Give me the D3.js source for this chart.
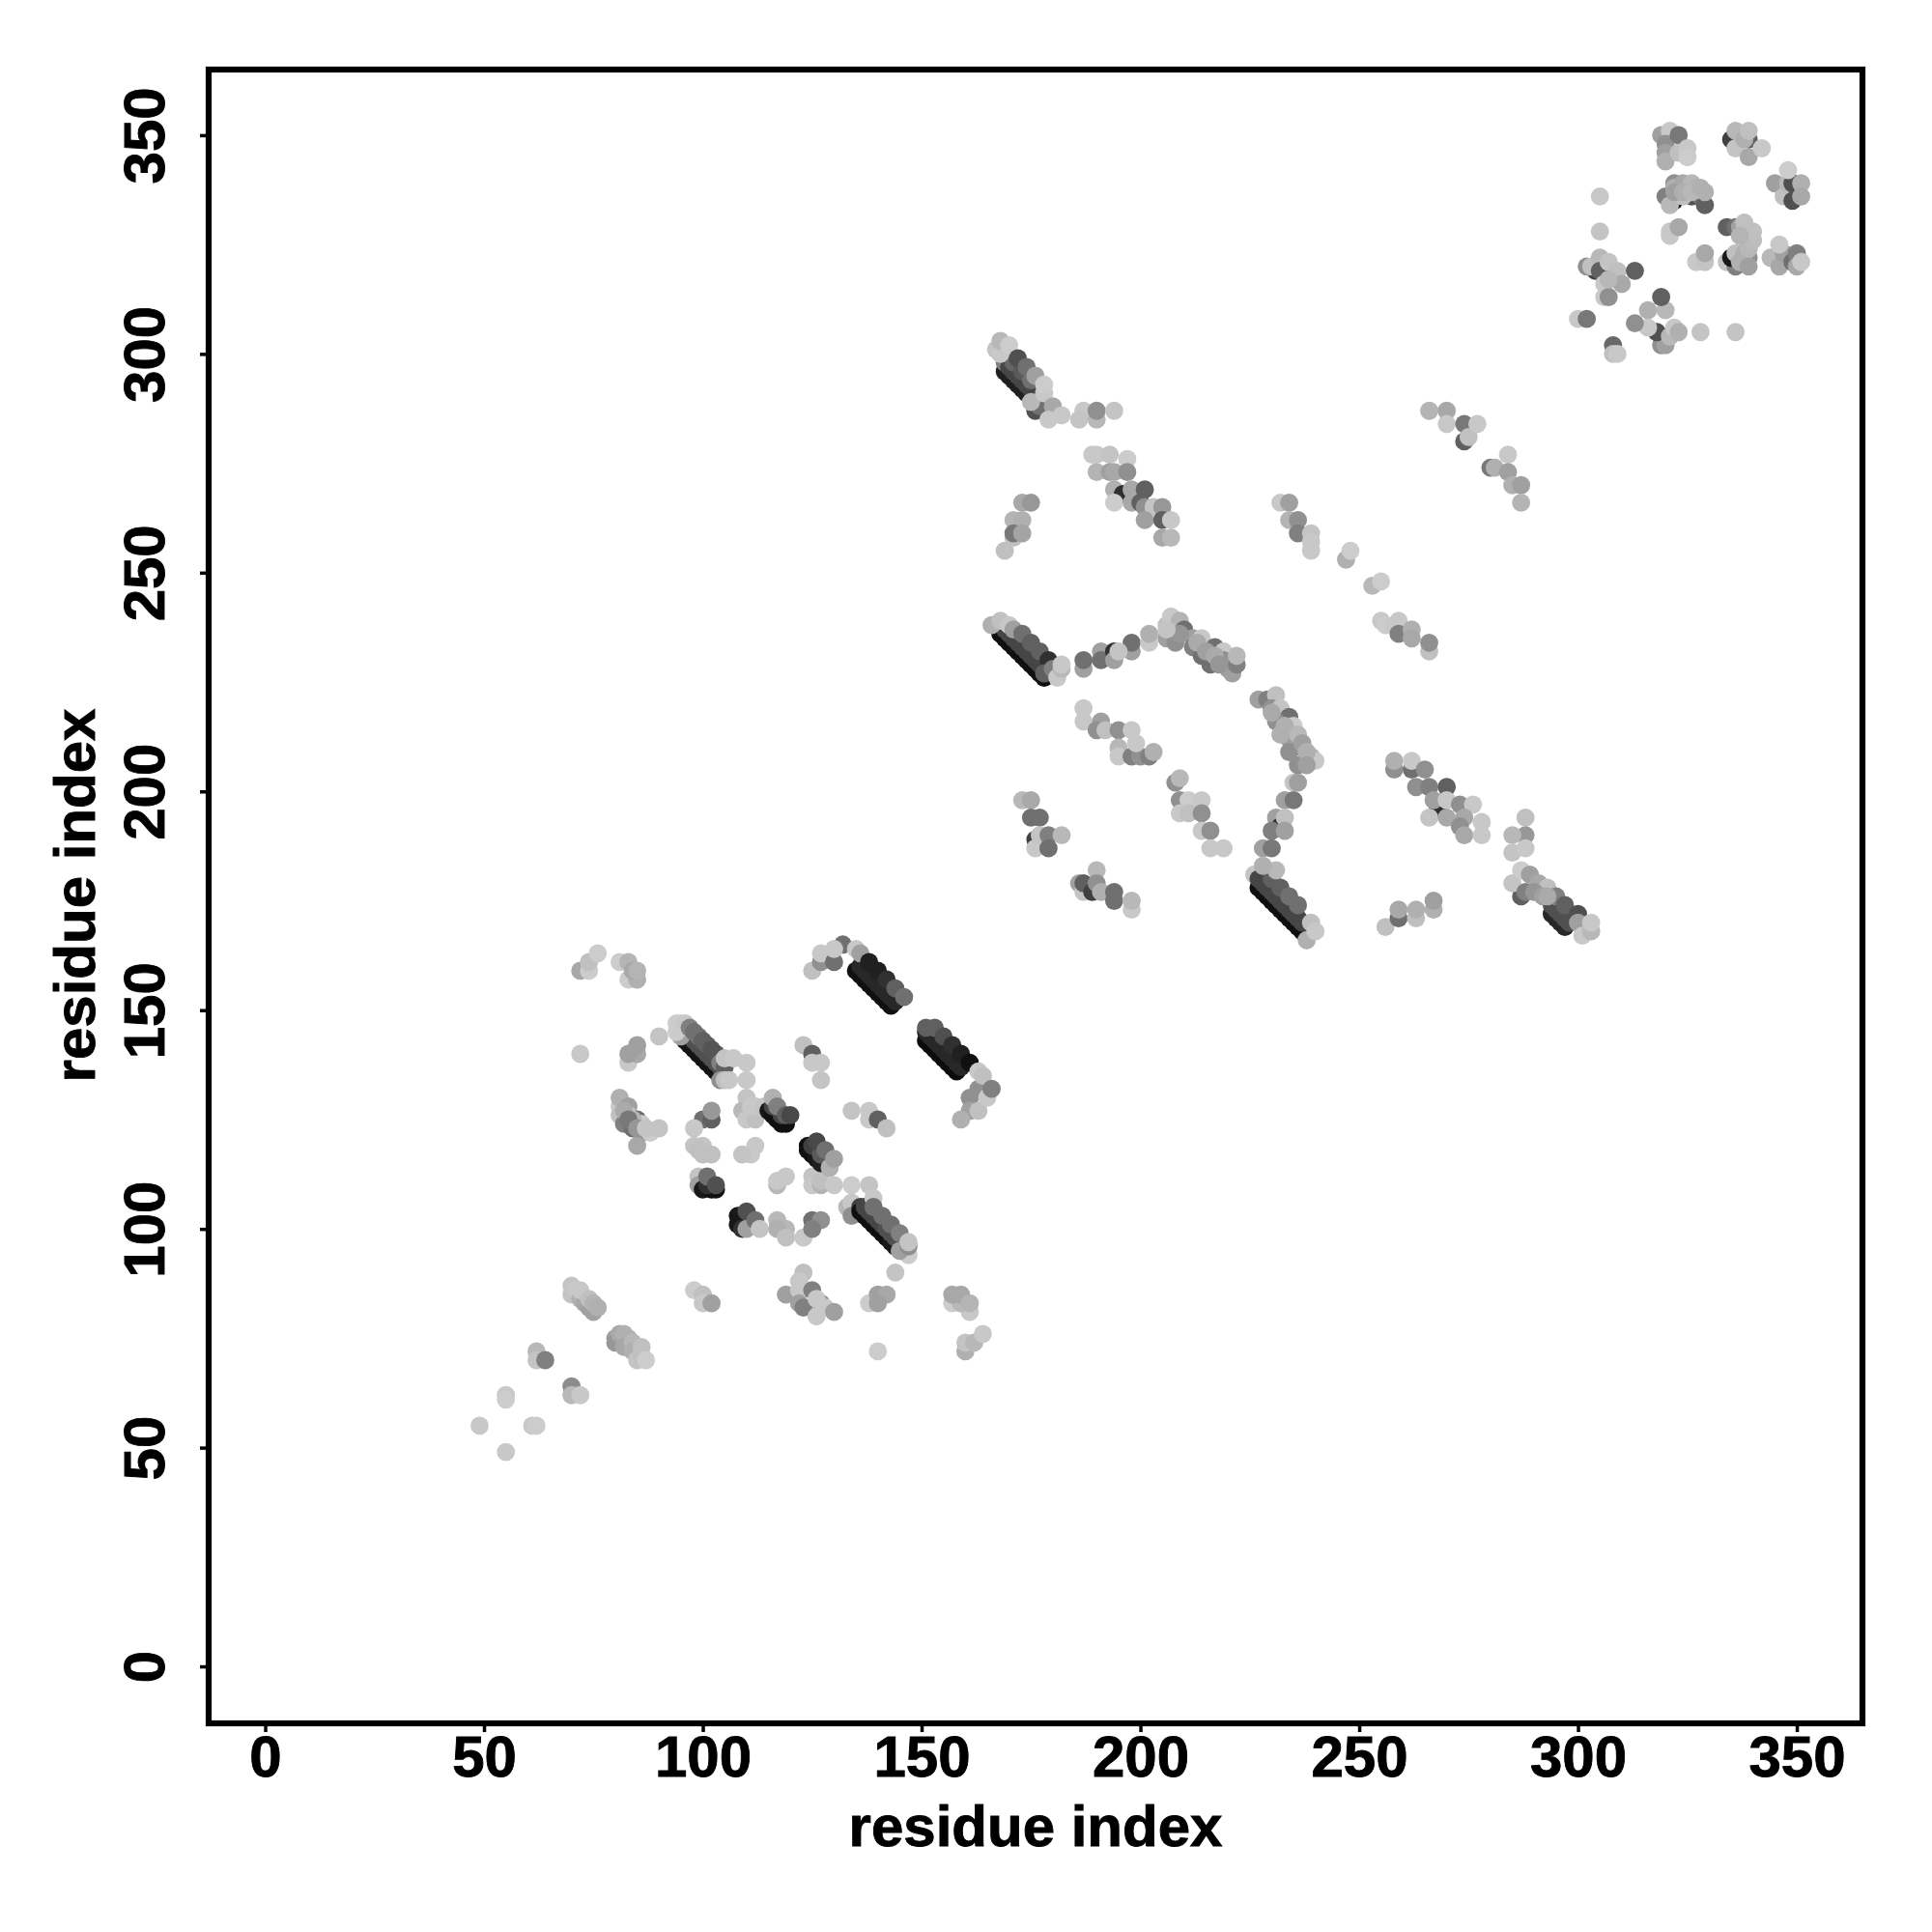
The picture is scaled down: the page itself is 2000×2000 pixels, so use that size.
<!DOCTYPE html>
<html><head><meta charset="utf-8">
<script src="https://d3js.org/d3.v7.min.js"></script>
<style>html,body{margin:0;padding:0;background:#fff}svg{display:block}</style>
</head><body><div id="chart"></div>
<script>
const tickLabels=[0,50,100,150,200,250,300,350];
const axisTitle="residue index";
const residueX=[
49,55,55,55,61,62,62,62,64,70,70,72,
70,70,71,72,73,74,75,72,74,75,76,
80,80,81,82,83,82,84,84,86,85,86,87,
72,74,74,76,81,83,85,83,84,85,72,83,85,83,85,90,
96,97,98,99,100,101,102,103,97,98,99,100,101,102,103,104,95,94,94,95,96,97,98,99,100,101,102,103,104,105,104,105,106,105,107,110,110,
100,102,102,98,98,100,99,100,102,99,99,100,102,103,101,101,103,
108,108,109,110,110,112,113,117,119,117,119,123,125,127,125,
110,109,110,112,112,111,114,115,116,117,118,119,116,118,116,117,119,120,
123,125,125,127,127,134,138,138,140,142,
112,111,109,117,117,119,125,125,127,127,130,134,138,
124,124,125,126,127,125,127,129,126,128,130,
133,134,134,136,136,137,138,139,140,141,142,143,144,137,138,139,140,141,142,143,144,139,139,141,143,145,147,145,147,147,144,
123,119,122,122,122,125,123,127,126,128,130,126,98,100,100,102,138,140,142,140,
161,157,159,157,159,161,160,160,162,164,140,
81,81,82,84,86,81,83,83,85,86,88,90,85,
125,127,127,130,132,130,135,135,136,137,138,139,140,141,142,143,136,137,138,139,140,141,142,143,144,136,138,140,142,144,146,
151,152,153,154,155,156,157,158,151,152,153,154,155,156,157,158,159,151,153,155,157,159,161,161,161,159,163,163,165,163,164,166,
169,170,171,172,173,174,175,169,170,171,172,173,174,175,171,173,175,176,177,175,167,168,168,170,172,174,176,178,178,180,179,182,187,186,190,190,194,
189,190,193,197,190,193,194,197,194,196,194,198,198,201,200,201,203,205,201,205,207,205,207,
173,175,171,173,171,171,173,169,
232,234,234,236,236,239,239,239,247,248,253,255,
266,270,270,274,274,275,277,280,281,284,284,285,287,287,
168,169,170,171,172,173,174,175,176,177,178,169,170,171,172,173,174,175,176,177,178,166,168,170,171,173,175,177,179,178,180,181,182,182,
187,187,191,191,194,194,198,198,202,202,195,
206,206,208,207,209,210,212,214,212,217,214,219,216,219,220,221,222,222,
187,187,191,190,192,195,198,195,195,198,200,202,203,199,
173,175,175,177,176,176,177,179,182,179,
190,186,187,187,189,190,191,194,194,198,198,
208,209,209,211,214,209,211,214,214,216,216,219,
227,229,231,230,232,234,231,235,235,234,237,234,236,239,240,235,236,233,235,231,232,233,230,233,228,230,
226,227,228,229,230,231,232,233,234,235,236,237,227,228,229,230,231,232,233,234,235,236,237,230,232,234,236,231,228,238,239,240,
256,259,259,263,263,267,267,288,288,285,285,288,
258,258,262,262,265,263,266,270,268,267,270,273,276,266,270,274,273,274,278,278,
294,295,296,297,287,294,295,296,297,298,285,287,289,288,291,293,295,297,300,300,301,303,303,
305,305,300,302,308,308,309,
302,304,303,305,305,306,306,307,307,309,310,307,313,
319,320,316,318,316,313,320,321,322,323,319,328,336,
321,321,323,327,329,329,334,336,337,334,336,335,336,339,339,339,339,
344,346,347,346,349,350,350,351,
319,321,320,320,320,323,323,325,
335,336,336,339,338,339,339,342,
345,347,348,349,349,351,351,348,
322,320,322,321,322,324,326,324,326,328,329,329,
255,256,258,259,259,262,262,266,266,
324,325,325,322,324,327,326,328,337,338,339,340,340,338,337,339,
233,236,237,238,238,230,232,
209,213,215,217,218,206,
82,84,83,85,87,
290,292,293];
const residueY=[
55,49,62,61,55,55,72,70,70,64,62,62,
87,85,86,84,83,82,81,86,84,83,82,
75,74,76,76,75,73,74,72,73,70,71,70,
159,159,161,163,161,157,157,161,159,159,140,138,140,140,142,144,
143,142,141,140,139,138,137,136,144,143,142,141,140,139,138,137,144,147,145,147,147,146,145,144,143,142,141,140,138,137,134,134,134,139,139,138,134,
125,125,127,123,119,119,118,117,117,112,110,109,109,109,110,112,110,
103,101,100,104,100,102,100,102,100,100,98,98,102,102,100,
130,127,125,125,128,128,128,127,126,125,124,124,128,126,130,128,126,126,
142,140,138,138,134,127,127,125,125,123,
119,117,117,110,111,112,112,110,110,111,110,110,110,
119,118,117,116,115,119,117,114,120,118,116,
105,106,103,105,104,103,102,101,100,99,98,97,96,105,104,103,102,101,100,99,98,107,105,103,101,99,94,95,96,97,90,
90,85,88,86,83,86,82,83,84,82,81,80,86,85,83,83,83,85,85,83,
81,83,83,85,85,83,72,74,74,76,72,
128,126,124,123,122,130,128,126,125,124,122,123,119,
159,161,163,161,165,164,164,159,158,157,156,155,154,153,152,151,160,159,158,157,156,155,154,153,152,163,161,159,157,155,153,
143,142,141,140,139,138,137,136,145,144,143,142,141,140,139,138,137,146,146,144,142,140,138,130,127,125,127,132,130,136,135,132,
296,295,294,293,292,291,290,298,297,296,295,294,293,292,298,296,294,287,288,289,301,300,303,302,299,297,295,291,293,288,285,286,287,285,285,287,287,
277,277,277,276,273,273,273,273,269,268,266,269,266,269,266,265,265,265,262,262,262,258,258,
266,266,262,262,258,259,259,255,
266,266,262,262,259,259,257,255,253,255,247,248,
287,287,284,284,280,281,284,274,274,277,273,270,270,266,
236,235,234,233,232,231,230,229,228,227,226,237,236,235,234,233,232,231,230,229,228,238,239,238,237,236,234,232,230,227,228,226,228,229,
228,230,232,230,232,230,232,234,234,236,232,
235,238,234,240,239,237,235,235,233,233,231,232,229,230,228,227,229,231,
219,216,216,214,214,214,214,210,208,208,208,208,209,211,
198,198,194,194,189,187,190,190,190,187,
182,179,177,179,177,179,177,177,175,173,175,
202,203,198,198,198,195,195,195,191,191,187,187,
221,221,222,219,219,217,216,215,213,212,210,209,206,208,207,202,202,198,198,194,192,194,191,191,187,187,
181,178,177,176,175,174,173,172,171,170,169,168,180,179,178,177,176,175,174,173,172,171,170,180,178,176,174,182,183,166,170,168,
169,171,173,171,173,173,175,194,190,190,186,187,
205,207,205,207,205,201,201,201,196,198,198,197,197,194,194,194,192,190,190,193,
172,171,170,169,176,174,173,172,171,170,179,182,181,177,179,178,176,174,172,170,167,168,170,
336,328,308,308,302,300,300,
320,319,320,322,319,316,313,313,321,319,316,317,319,
302,302,310,305,306,307,310,304,306,305,313,305,305,
328,327,329,321,321,323,329,329,329,321,320,322,323,322,328,326,325,
322,320,323,325,321,323,320,321,
350,351,348,346,344,350,346,345,
349,351,347,349,349,345,351,347,
339,336,339,339,335,339,336,342,
339,336,335,334,338,339,336,336,339,336,334,337,
239,238,238,239,236,237,235,232,234,
346,347,345,337,337,338,337,338,321,323,324,326,328,330,327,320,
215,213,211,209,206,218,213,
236,234,232,231,229,237,
127,125,125,123,123,
177,176,176];
const grayLevel=[
200,200,200,204,200,204,184,196,128,140,184,200,
196,196,200,176,168,160,160,200,192,180,176,
160,152,168,176,176,168,184,176,192,196,192,204,
168,204,192,204,204,204,176,180,168,180,200,200,168,160,160,196,
20,20,20,20,20,20,20,20,80,80,80,80,80,80,80,80,160,204,204,204,200,128,112,112,96,96,85,85,128,96,144,192,200,196,200,200,200,
112,96,152,200,196,196,192,192,192,196,160,24,16,16,48,112,80,
24,24,48,80,160,112,196,184,184,176,192,200,112,144,128,
196,184,200,192,196,200,196,24,16,16,16,16,70,70,176,128,96,72,
192,96,200,200,196,196,200,200,96,192,
200,200,196,184,200,200,196,200,180,192,200,204,196,
16,16,16,24,32,64,90,176,72,112,160,
184,200,144,64,16,16,16,16,16,16,16,24,24,70,70,70,70,70,80,80,80,200,112,112,112,128,204,160,144,196,196,
192,160,200,200,160,128,128,144,200,200,160,200,204,192,200,160,204,160,168,160,
200,204,184,168,168,180,176,196,184,200,204,
200,192,128,112,144,176,160,200,104,200,204,196,168,
192,144,200,112,112,200,200,16,16,16,16,16,16,16,16,16,40,40,40,40,40,40,40,40,40,160,32,32,48,96,112,
12,12,12,12,12,12,12,12,40,40,40,40,40,40,40,40,40,96,96,80,48,32,16,144,160,176,192,144,200,200,192,128,
32,32,32,32,32,32,32,128,70,70,70,70,70,70,100,90,112,80,112,184,196,200,184,204,80,112,160,200,204,168,200,200,200,196,184,144,196,
200,200,196,204,180,160,168,144,176,48,204,168,168,96,96,144,196,152,160,96,200,168,184,
168,152,180,176,192,120,164,192,
200,160,180,144,128,196,200,200,176,204,184,204,
180,168,200,120,96,192,200,120,176,200,160,176,160,180,
16,16,16,16,16,16,16,16,16,16,16,70,70,70,70,70,70,70,70,70,70,176,192,200,160,112,96,96,48,96,128,200,184,200,
160,112,160,112,48,160,160,112,200,176,196,
160,192,144,200,180,112,160,200,128,112,112,200,112,144,160,160,128,184,
200,200,160,144,192,144,200,184,200,128,144,128,176,200,
184,168,112,112,64,200,196,128,184,112,
184,160,196,96,64,144,176,112,112,200,184,
144,184,144,204,200,200,192,144,200,144,200,200,
160,128,192,144,196,112,144,204,192,160,112,144,144,176,200,196,160,160,120,160,48,192,128,160,160,120,
196,16,16,16,16,16,16,16,16,16,16,16,70,70,70,70,70,70,70,70,70,70,70,96,96,112,112,184,176,176,192,200,
192,112,168,192,176,176,160,192,152,184,196,200,
144,176,112,200,144,144,128,96,48,160,200,144,200,196,168,168,144,168,200,200,
40,40,40,40,96,80,80,80,80,80,196,204,160,128,168,192,128,96,80,160,200,184,200,
200,196,200,120,104,192,200,
144,64,192,184,96,200,200,144,196,192,168,184,96,
144,160,176,80,200,144,184,184,200,176,96,196,196,
200,200,168,200,196,168,96,112,160,196,128,24,192,144,192,184,176,
184,168,160,200,112,128,168,200,
160,200,144,160,176,120,192,200,
64,184,196,96,176,168,192,200,
160,192,184,80,80,176,168,204,
144,128,24,184,176,168,80,192,184,112,96,176,
200,204,200,200,128,176,168,192,144,
192,200,204,160,176,180,184,176,176,176,184,188,192,192,180,160,
176,184,160,176,160,170,176,
150,170,160,170,150,196,
170,180,120,150,196,
150,160,170];

const W=2000,H=2000,L=216,R=1928,T=72,B=1784;
const svg=d3.select("#chart").append("svg").attr("width",W).attr("height",H).attr("viewBox",`0 0 ${W} ${H}`);
svg.append("rect").attr("width",W).attr("height",H).attr("fill","#fff");
const x=d3.scaleLinear().domain([-12.92,365]).range([L,R]);
const y=d3.scaleLinear().domain([-13.02,365]).range([B,T]);
const shade=d3.scaleLinear().domain([0,255]).range(["#000","#fff"]);
const rows=residueX.map((v,i)=>({x:v,y:residueY[i],g:grayLevel[i]}));
svg.append("g").selectAll("circle").data(rows).join("circle")
 .attr("cx",d=>x(d.x)).attr("cy",d=>y(d.y)).attr("r",9.4).attr("fill",d=>shade(d.g));
const font='"Liberation Sans",Arial,sans-serif';
svg.append("rect").attr("x",L).attr("y",T).attr("width",R-L).attr("height",B-T)
 .attr("fill","none").attr("stroke","#000").attr("stroke-width",6.2).attr("stroke-linejoin","miter");
const gx=svg.append("g").attr("transform",`translate(0,${B})`)
 .call(d3.axisBottom(x).tickValues(tickLabels).tickSize(9).tickSizeOuter(0).tickFormat(d3.format("d")));
gx.select(".domain").remove();
gx.selectAll("line").attr("stroke","#000").attr("stroke-width",3.5);
gx.selectAll("text").attr("y",0).attr("dy",0).attr("transform","translate(0,55)")
 .attr("fill","#000").attr("stroke","#000").attr("stroke-width",0.9).attr("font-family",font).attr("font-weight","bold").attr("font-size",60).attr("text-anchor","middle");
const gy=svg.append("g").attr("transform",`translate(${L},0)`)
 .call(d3.axisLeft(y).tickValues(tickLabels).tickSize(9).tickSizeOuter(0).tickFormat(d3.format("d")));
gy.select(".domain").remove();
gy.selectAll("line").attr("stroke","#000").attr("stroke-width",3.5);
gy.selectAll("text").attr("x",0).attr("y",0).attr("dy",0).attr("transform","translate(-46,0) rotate(-90)")
 .attr("fill","#000").attr("stroke","#000").attr("stroke-width",0.9).attr("font-family",font).attr("font-weight","bold").attr("font-size",60).attr("text-anchor","middle");
svg.append("text").attr("x",1072).attr("y",1911).attr("text-anchor","middle").attr("stroke","#000").attr("stroke-width",0.9)
 .attr("font-family",font).attr("font-weight","bold").attr("font-size",60).text(axisTitle);
svg.append("text").attr("transform","translate(98,927) rotate(-90)").attr("text-anchor","middle").attr("stroke","#000").attr("stroke-width",0.9)
 .attr("font-family",font).attr("font-weight","bold").attr("font-size",60).text(axisTitle);
</script></body></html>
